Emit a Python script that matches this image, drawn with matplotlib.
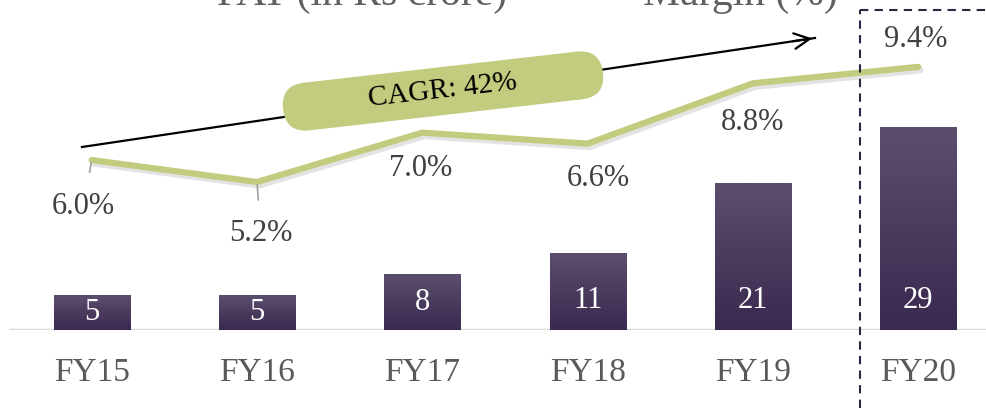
import matplotlib
matplotlib.use("Agg")
import matplotlib.pyplot as plt, numpy as np
import matplotlib.patheffects as pe
from matplotlib.patches import FancyBboxPatch
from matplotlib.transforms import Affine2D
from matplotlib.colors import LinearSegmentedColormap

years = ['FY15', 'FY16', 'FY17', 'FY18', 'FY19', 'FY20']
pat = [5, 5, 8, 11, 21, 29]
margin = [6.0, 5.2, 7.0, 6.6, 8.8, 9.4]
margin_labels = ['6.0%', '5.2%', '7.0%', '6.6%', '8.8%', '9.4%']
cagr_text = 'CAGR: 42%'

plt.rcParams['font.family'] = ['Liberation Serif', 'DejaVu Serif']
green = '#c3cc7e'
grey_txt = '#404040'

fig = plt.figure(figsize=(9.86, 4.08), dpi=100)
ax = fig.add_axes([9 / 986, 78 / 408, 1 - 9 / 986, 330 / 408])
x = np.arange(len(years))

# bars with a vertical purple gradient
bars = ax.bar(x, pat, width=0.46, color='#3d2b52', zorder=2)
cmap = LinearSegmentedColormap.from_list('purp', ['#3a2950', '#5b4e6d'])
grad = np.linspace(0, 1, 100).reshape(-1, 1)
for b in bars:
    x0, w, h = b.get_x(), b.get_width(), b.get_height()
    ax.imshow(grad, extent=[x0, x0 + w, 0, h], origin='lower', aspect='auto',
              cmap=cmap, zorder=2.1)
for xi, v in zip(x, pat):
    ax.text(xi, min(v / 2, 4.2), str(v), ha='center', va='center',
            color='white', fontsize=22, zorder=3)

ax.set_xlim(-0.5, 5.41)
ax.set_ylim(0, 47.3)
ax.axhline(0, color='#d9d9d9', lw=2.5, zorder=1)
for s in ax.spines.values():
    s.set_visible(False)
ax.set_yticks([])
ax.set_xticks(x)
ax.set_xticklabels(years, fontsize=24, color='#595959')
ax.tick_params(axis='x', length=0, pad=20)

# margin line on twin axis
ax2 = ax.twinx()
ax2.set_ylim(-0.2, 11.84)
ax2.axis('off')
ax2.plot(x, margin, color=green, lw=4.5, solid_joinstyle='miter', solid_capstyle='round',
         path_effects=[pe.SimpleLineShadow(offset=(1.5, -2.5), shadow_color='#777777', alpha=0.2),
                       pe.Normal()], zorder=3)
offsets = [(-8, -46), (4, -52), (-2, -36), (11, -35), (0, -39), (-3, 27)]
for i, (xi, v, lab) in enumerate(zip(x, margin, margin_labels)):
    arrow = dict(arrowstyle='-', color='#a0a0a0', lw=1.2, shrinkA=12, shrinkB=2) if i < 2 else None
    ax2.annotate(lab, xy=(xi, v), xytext=offsets[i], textcoords='offset pixels',
                 ha='center', va='center', fontsize=22, color=grey_txt, arrowprops=arrow)

# CAGR arrow and pill
fig.add_artist(plt.Line2D([82 / 986, 815 / 986], [1 - 147 / 408, 1 - 38 / 408], transform=fig.transFigure,
                          color='black', lw=1.6))
ax.annotate('', xy=(815 / 986, 1 - 38 / 408), xytext=(790 / 986, 1 - 41.7 / 408),
            xycoords='figure fraction', textcoords='figure fraction',
            arrowprops=dict(arrowstyle='->', color='black', lw=1.6, mutation_scale=28))
cx, cy, pw, ph = 443, 408 - 91, 322, 48
pill = FancyBboxPatch((cx - pw / 2, cy - ph / 2), pw, ph, boxstyle='round,pad=0,rounding_size=24',
                      fc=green, ec='none', transform=Affine2D().rotate_deg_around(cx, cy, 6.5), zorder=5)
fig.add_artist(pill)
fig.text(cx / 986, cy / 408, cagr_text, ha='center', va='center', rotation=6.5, fontsize=21,
         color='black', zorder=6)

# dashed highlight box around FY20
box_c = '#2b2641'
fig.add_artist(plt.Line2D([860 / 986, 860 / 986], [0, 1 - 10 / 408], transform=fig.transFigure,
                          color=box_c, lw=1.5, ls=(0, (4, 3))))
fig.add_artist(plt.Line2D([860 / 986, 1], [1 - 10 / 408, 1 - 10 / 408], transform=fig.transFigure,
                          color=box_c, lw=1.5, ls=(0, (4, 3))))

# cropped legend/title at top
fig.text(217 / 986, 1 - 5 / 408, 'PAT (in Rs crore)', ha='left', va='baseline', fontsize=30, color='#606060')
fig.text(643 / 986, 1 - 5 / 408, 'Margin (%)', ha='left', va='baseline', fontsize=30, color='#606060')

fig.savefig('out.png', dpi=100)
